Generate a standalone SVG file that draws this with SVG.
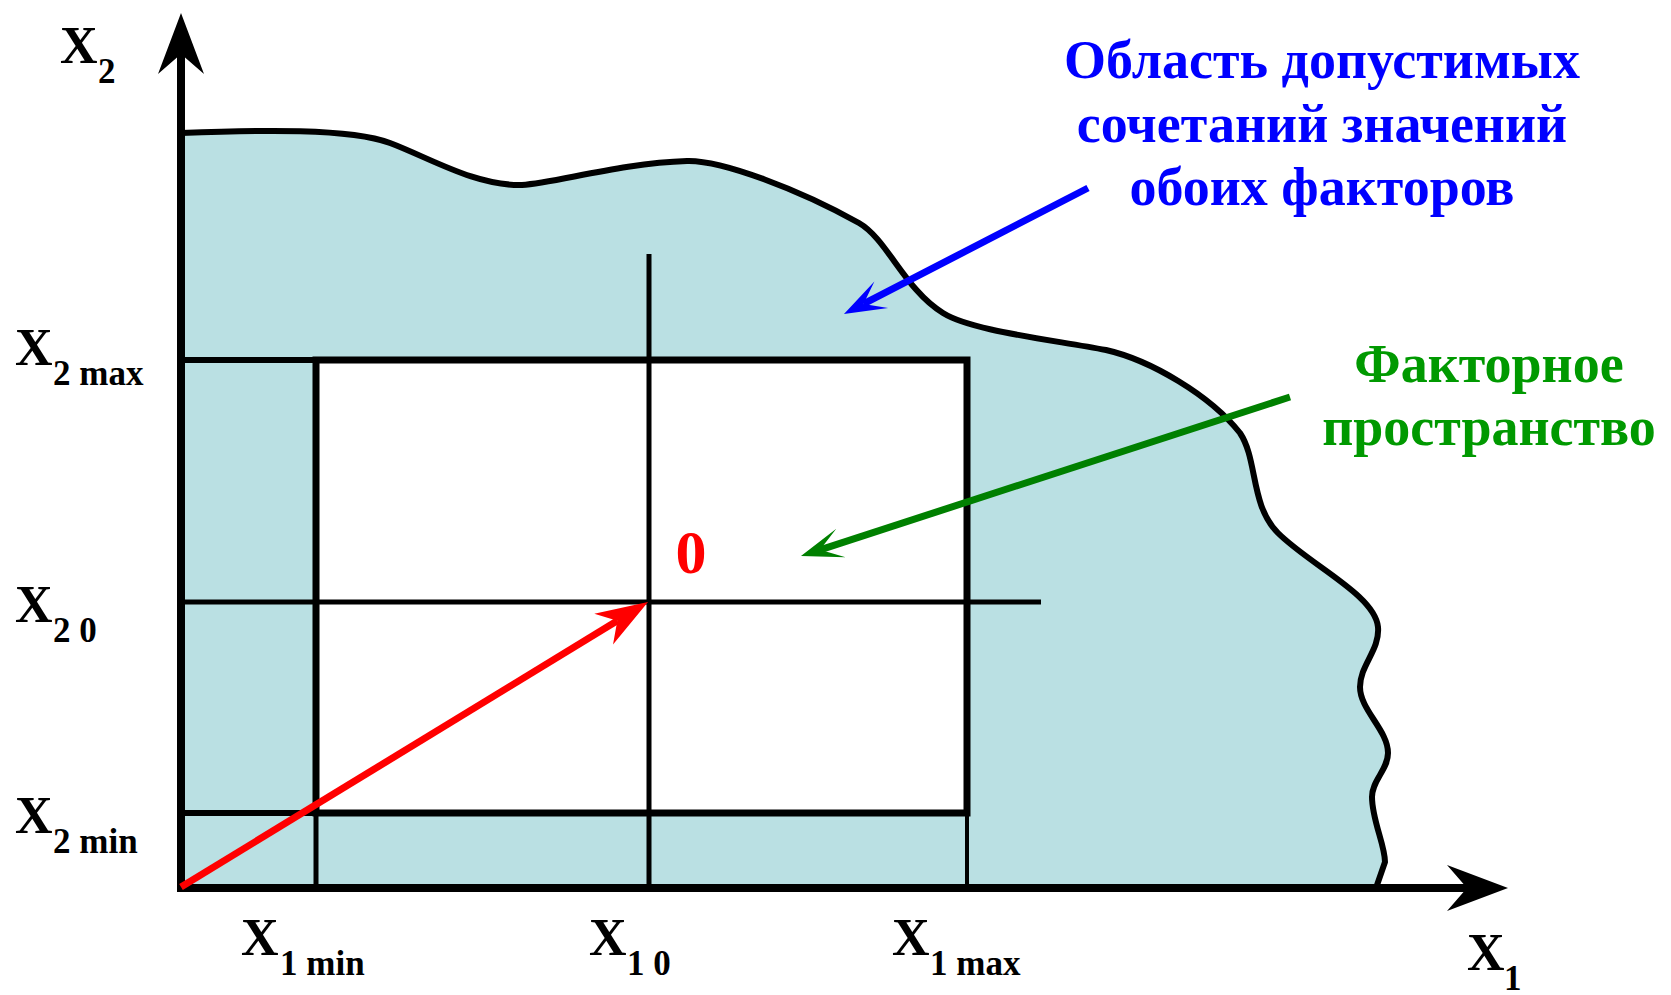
<svg xmlns="http://www.w3.org/2000/svg" width="1671" height="995" viewBox="0 0 1671 995">
<style>
.lbl{font-family:"Liberation Serif","Times New Roman",serif;font-weight:bold;fill:#000}
.x{font-size:52px}
.s{font-size:35px}
.note{font-family:"Liberation Serif","Times New Roman",serif;font-weight:bold;font-size:54px;text-anchor:middle}
.thin{stroke:#000;fill:none}
</style>
<defs>
<marker id="axisHead" markerUnits="userSpaceOnUse" viewBox="-62 -24 64 48" markerWidth="64" markerHeight="48" refX="-41" refY="0" orient="auto">
<path d="M0,0 L-61,-23 L-41,0 L-61,23 Z" fill="#000"/>
</marker>
<marker id="redHead" markerUnits="userSpaceOnUse" viewBox="-54 -20 56 40" markerWidth="56" markerHeight="40" refX="-36" refY="0" orient="auto">
<path d="M0,0 L-52,-18 L-36,0 L-52,18 Z" fill="#ff0000"/>
</marker>
<marker id="blueHead" markerUnits="userSpaceOnUse" viewBox="-44 -17 46 34" markerWidth="46" markerHeight="34" refX="-22" refY="0" orient="auto">
<path d="M0,0 L-42,-15 L-22,0 L-42,15 Z" fill="#0000ff"/>
</marker>
<marker id="greenHead" markerUnits="userSpaceOnUse" viewBox="-44 -17 46 34" markerWidth="46" markerHeight="34" refX="-20" refY="0" orient="auto">
<path d="M0,0 L-42,-15 L-20,0 L-42,15 Z" fill="#008000"/>
</marker>
</defs>

<g id="region-fill">
<path d="M181,133 C260,130 350,128 390,143 C430,158 475,186 522,185 C555,183 622,163 687,161 C722,160 800,190 859,223 C887,239 905,290 943,313 C970,330 1040,338 1106,350 C1150,360 1210,395 1240,433 C1258,460 1250,505 1278,533 C1310,565 1375,595 1378,627 C1380,650 1360,665 1360,687 C1360,710 1388,730 1388,753 C1388,770 1372,780 1372,797 C1372,820 1385,845 1385,862 L1376,888 L181,888 Z" fill="#bae0e3"/>
</g>

<g id="factor-space">
<rect x="316" y="360" width="651" height="453" fill="#fff" stroke="#000" stroke-width="7"/>
</g>

<g id="grid-lines">
<line class="thin" x1="181" y1="360" x2="316" y2="360" stroke-width="6"/>
<line class="thin" x1="181" y1="813" x2="316" y2="813" stroke-width="6"/>
<line class="thin" x1="316" y1="813" x2="316" y2="888" stroke-width="5"/>
<line class="thin" x1="967" y1="813" x2="967" y2="888" stroke-width="4"/>
<line class="thin" x1="649" y1="254" x2="649" y2="888" stroke-width="5"/>
<line class="thin" x1="181" y1="602" x2="1041" y2="602" stroke-width="5"/>
</g>

<g id="region-outline">
<path d="M181,133 C260,130 350,128 390,143 C430,158 475,186 522,185 C555,183 622,163 687,161 C722,160 800,190 859,223 C887,239 905,290 943,313 C970,330 1040,338 1106,350 C1150,360 1210,395 1240,433 C1258,460 1250,505 1278,533 C1310,565 1375,595 1378,627 C1380,650 1360,665 1360,687 C1360,710 1388,730 1388,753 C1388,770 1372,780 1372,797 C1372,820 1385,845 1385,862 L1376,888" fill="none" stroke="#000" stroke-width="6" stroke-linejoin="round"/>
</g>

<g id="connectors">
<line x1="181" y1="892" x2="181" y2="54" stroke="#000" stroke-width="8" marker-end="url(#axisHead)"/>
<line x1="177" y1="888" x2="1467" y2="888" stroke="#000" stroke-width="8" marker-end="url(#axisHead)"/>
<line x1="181" y1="887" x2="617.3" y2="620.8" stroke="#ff0000" stroke-width="7" marker-end="url(#redHead)"/>
<line x1="1088" y1="188" x2="863.5" y2="303.9" stroke="#0000ff" stroke-width="7" marker-end="url(#blueHead)"/>
<line x1="1290" y1="397" x2="820" y2="549.8" stroke="#008000" stroke-width="7" marker-end="url(#greenHead)"/>
</g>

<g id="label-x2">
<text class="lbl x" x="60" y="63">X</text><text class="lbl s" x="98" y="83">2</text>
</g>
<g id="label-x2max">
<text class="lbl x" x="15" y="365">X</text><text class="lbl s" x="53" y="385">2 max</text>
</g>
<g id="label-x20">
<text class="lbl x" x="15" y="622">X</text><text class="lbl s" x="53" y="642">2 0</text>
</g>
<g id="label-x2min">
<text class="lbl x" x="15" y="833">X</text><text class="lbl s" x="53" y="853">2 min</text>
</g>
<g id="label-x1min">
<text class="lbl x" x="241" y="955">X</text><text class="lbl s" x="280" y="975">1 min</text>
</g>
<g id="label-x10">
<text class="lbl x" x="589" y="955">X</text><text class="lbl s" x="627" y="975">1 0</text>
</g>
<g id="label-x1max">
<text class="lbl x" x="892" y="955">X</text><text class="lbl s" x="930" y="975">1 max</text>
</g>
<g id="label-x1">
<text class="lbl x" x="1467" y="970">X</text><text class="lbl s" x="1504" y="990">1</text>
</g>
<g id="label-zero">
<text x="691" y="573" font-family="Liberation Serif, Times New Roman, serif" font-weight="bold" font-size="62" fill="#ff0000" text-anchor="middle">0</text>
</g>
<g id="note-region">
<text class="note" fill="#0000ff"><tspan x="1322" y="78">Область допустимых</tspan><tspan x="1322" y="142">сочетаний значений</tspan><tspan x="1322" y="205">обоих факторов</tspan></text>
</g>
<g id="note-factor-space">
<text class="note" fill="#009900"><tspan x="1489" y="382">Факторное</tspan><tspan x="1489" y="445">пространство</tspan></text>
</g>
</svg>
